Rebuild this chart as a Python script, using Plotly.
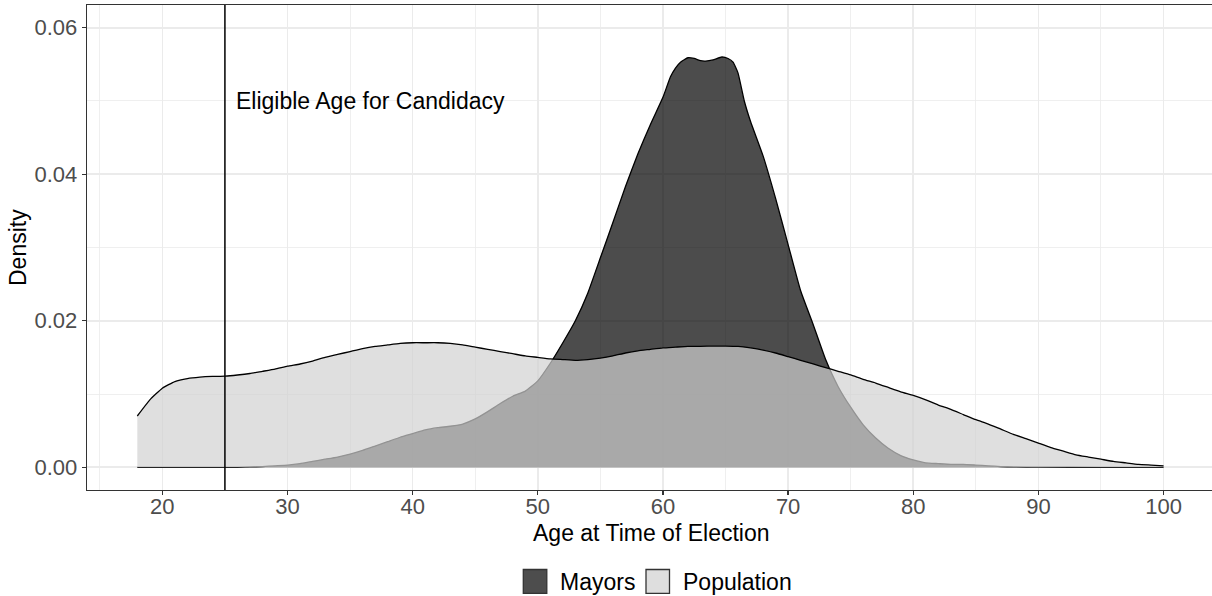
import plotly.graph_objects as go

# ---------------- data ----------------
pop_age = list(range(18, 101))
pop_density = [
    0.0070, 0.0092, 0.0108, 0.0117, 0.0121, 0.0123, 0.0124, 0.01245, 0.0126, 0.0128,   # 18-27
    0.0131, 0.0134, 0.0138, 0.0141, 0.0145, 0.0150, 0.0154, 0.0158, 0.0162, 0.0165,    # 28-37
    0.0167, 0.0169, 0.0170, 0.0170, 0.0170, 0.0169, 0.0167, 0.0164, 0.0161, 0.0158,    # 38-47
    0.0155, 0.0152, 0.0150, 0.0148, 0.0147, 0.0146, 0.0147, 0.0149, 0.0152, 0.0156,    # 48-57
    0.0159, 0.0161, 0.0163, 0.0164, 0.0165, 0.0165, 0.01655, 0.01655, 0.0165, 0.0163,  # 58-67
    0.0160, 0.0156, 0.0151, 0.0146, 0.0141, 0.0136, 0.0131, 0.0126, 0.0120, 0.0115,    # 68-77
    0.0109, 0.0103, 0.0098, 0.0092, 0.0085, 0.0079, 0.0072, 0.0065, 0.0059, 0.0052,    # 78-87
    0.0045, 0.0039, 0.0033, 0.0027, 0.0022, 0.0017, 0.0014, 0.0011, 0.0008, 0.0006,    # 88-97
    0.0004, 0.0003, 0.0002,                                                              # 98-100
]

mayors_age = [18, 20, 22, 24, 26, 27, 28, 29, 30, 31, 32, 33, 34, 35, 36, 37, 38, 39, 40,
              41, 42, 43, 44, 45, 46, 47, 48, 49, 50, 51, 52, 53, 54, 55, 56, 57, 58, 59,
              60, 60.6, 61, 61.4, 62, 62.5, 63, 63.4, 64, 64.7, 65.2, 65.6, 66, 66.5, 67,
              68, 69, 70, 71, 72, 73, 74, 75, 76, 77, 78, 79, 80, 81, 82, 83, 84, 85, 86,
              87, 88, 90, 95, 100]
mayors_density = [0, 0, 0, 0, 0, 0.00005, 0.0001, 0.0002, 0.0003, 0.0005, 0.0008, 0.0011,
                  0.0014, 0.0018, 0.0023, 0.0029, 0.0035, 0.0041, 0.0046, 0.0051, 0.0054,
                  0.0056, 0.0059, 0.0066, 0.0076, 0.0087, 0.0097, 0.0104, 0.0118, 0.0142,
                  0.0170, 0.0200, 0.0238, 0.0286, 0.0334, 0.0383, 0.0428, 0.0468, 0.0505,
                  0.0533, 0.0545, 0.0553, 0.0559, 0.0558, 0.0555, 0.05545, 0.0556, 0.0560,
                  0.0558, 0.0553, 0.0538, 0.0500, 0.0472, 0.0425, 0.0367, 0.0304, 0.0241,
                  0.0195, 0.0147, 0.0110, 0.0082, 0.0058, 0.0040, 0.0026, 0.0016, 0.0010,
                  0.0006, 0.0005, 0.0004, 0.0004, 0.0003, 0.0002, 0.0001, 0.00005, 0.00002,
                  0, 0]

eligible_age = 25
x_ticks = [20, 30, 40, 50, 60, 70, 80, 90, 100]
y_ticks = [0.00, 0.02, 0.04, 0.06]
y_tick_labels = ["0.00", "0.02", "0.04", "0.06"]

# ---------------- figure ----------------
W, H = 1212, 596
L, R, T, B = 87, 0, 5, 106
PW, PH = W - L - R, H - T - B
FONT = "Liberation Sans, Arial, Helvetica, sans-serif"
FS = 22
FS_T = 23

def px2paper_x(px):
    return (px - L) / PW

def px2paper_y(py):
    return (H - B - py) / PH

fig = go.Figure()
fig.add_trace(go.Scatter(
    x=mayors_age, y=mayors_density, mode="lines", name="Mayors",
    fill="tozeroy", fillcolor="rgba(0,0,0,0.7)",
    line=dict(color="black", width=1.3, shape="spline", smoothing=0.4),
    showlegend=False, hoverinfo="skip"))
fig.add_trace(go.Scatter(
    x=pop_age, y=pop_density, mode="lines", name="Population",
    fill="tozeroy", fillcolor="rgba(210,210,210,0.7)",
    line=dict(color="black", width=1.3, shape="spline", smoothing=0.4),
    showlegend=False, hoverinfo="skip"))

# vertical line at eligible age
fig.add_shape(type="line", xref="x", yref="paper", x0=eligible_age, x1=eligible_age,
              y0=0, y1=1, line=dict(color="black", width=1.5), layer="above")
fig.add_annotation(x=eligible_age + 0.75, y=0.05, xref="x", yref="y",
                   text="Eligible Age for Candidacy", showarrow=False,
                   xanchor="left", yanchor="middle",
                   font=dict(family=FONT, size=FS_T, color="black"))

# axis titles
fig.add_annotation(x=px2paper_x(17.5), y=0.5, xref="paper", yref="paper",
                   text="Density", textangle=-90, showarrow=False,
                   xanchor="center", yanchor="middle",
                   font=dict(family=FONT, size=FS_T, color="black"))
fig.add_annotation(x=px2paper_x(651), y=px2paper_y(533), xref="paper", yref="paper",
                   text="Age at Time of Election", showarrow=False,
                   xanchor="center", yanchor="middle",
                   font=dict(family=FONT, size=FS_T, color="black"))

# legend (manual)
legend_items = [("Mayors", "rgb(77,77,77)", 523.3, 558), ("Population", "rgb(222,222,222)", 646, 681)]
for label, col, kx, tx in legend_items:
    fig.add_shape(type="rect", xref="paper", yref="paper",
                  x0=px2paper_x(kx), x1=px2paper_x(kx + 23.5),
                  y0=px2paper_y(593.3), y1=px2paper_y(569.5),
                  fillcolor=col, line=dict(color="#333333", width=1.3))
    fig.add_annotation(x=px2paper_x(tx), y=px2paper_y(581.5), xref="paper", yref="paper",
                       text=label, showarrow=False, xanchor="left", yanchor="middle",
                       font=dict(family=FONT, size=FS_T, color="black"))

fig.update_layout(
    width=W, height=H, autosize=False,
    margin=dict(l=L, r=R, t=T, b=B, pad=0),
    paper_bgcolor="white", plot_bgcolor="white",
    font=dict(family=FONT, size=FS, color="#4d4d4d"),
    showlegend=False,
)
fig.update_xaxes(
    range=[13.98, 103.87], tickvals=x_ticks, ticks="outside", ticklen=4,
    tickcolor="#333333", tickwidth=1.3, ticklabelstandoff=-8,
    showline=True, mirror=True, linecolor="#333333", linewidth=1.3,
    showgrid=True, gridcolor="#ebebeb", gridwidth=1.6, zeroline=False,
    tickfont=dict(family=FONT, size=FS, color="#4d4d4d"),
    minor=dict(dtick=5, tick0=15, showgrid=True, gridcolor="#ebebeb", gridwidth=0.8, ticklen=0),
)
fig.update_yaxes(
    range=[-0.0031, 0.0631], tickvals=y_ticks, ticktext=y_tick_labels,
    ticks="outside", ticklen=4, tickcolor="#333333", tickwidth=1.3,
    showline=True, mirror=False, linecolor="#333333", linewidth=1.3,
    showgrid=True, gridcolor="#ebebeb", gridwidth=1.6, zeroline=False,
    tickfont=dict(family=FONT, size=FS, color="#4d4d4d"),
    minor=dict(dtick=0.01, tick0=0, showgrid=True, gridcolor="#ebebeb", gridwidth=0.8, ticklen=0),
)

fig.write_html(
    "out.html",
    config={"displayModeBar": False, "staticPlot": True},
    post_script="document.body.style.margin='0px';document.body.style.overflow='hidden';",
)
